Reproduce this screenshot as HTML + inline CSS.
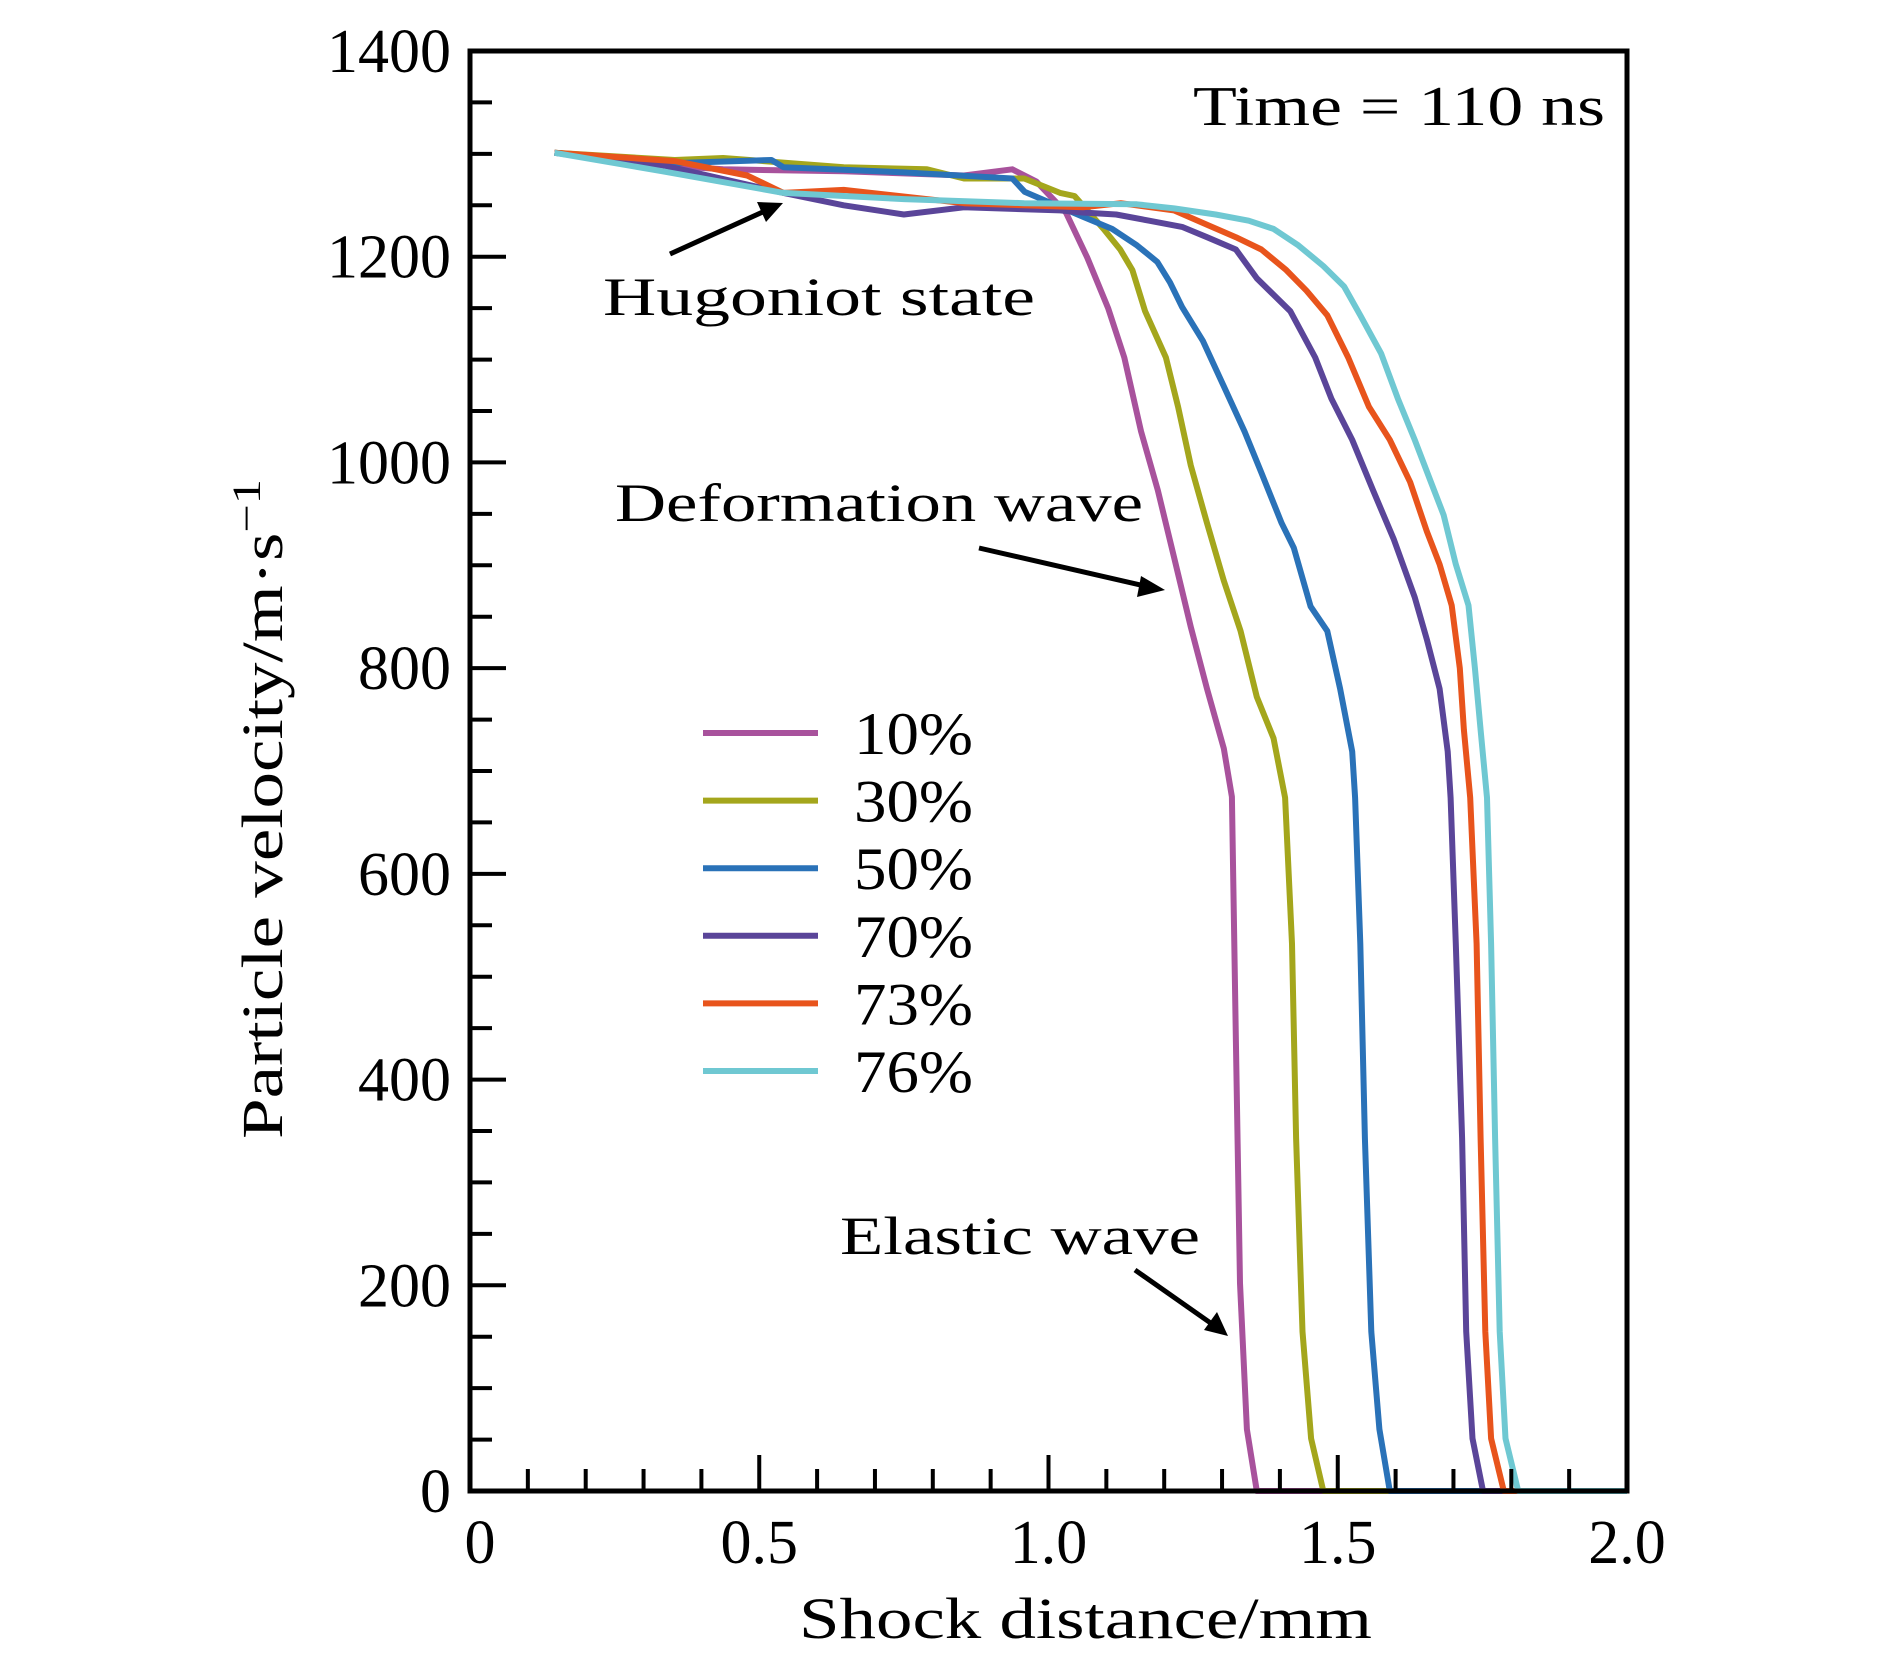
<!DOCTYPE html>
<html><head><meta charset="utf-8"><style>
html,body{margin:0;padding:0;background:#fff;}
svg{display:block;font-family:"Liberation Serif",serif;}
</style></head><body>
<svg id="chart" width="1890" height="1654" viewBox="0 0 1890 1654" xmlns="http://www.w3.org/2000/svg">
<g id="curves"></g>
<g id="axes"></g>
<g id="legend"></g>
<text x="1193" y="125" font-size="56" textLength="412" lengthAdjust="spacingAndGlyphs">Time = 110 ns</text>
<text x="603" y="315" font-size="54" textLength="432" lengthAdjust="spacingAndGlyphs">Hugoniot state</text>
<text x="615" y="521" font-size="54" textLength="528" lengthAdjust="spacingAndGlyphs">Deformation wave</text>
<text x="840" y="1254" font-size="54" textLength="360" lengthAdjust="spacingAndGlyphs">Elastic wave</text>
<g><line x1="670" y1="254" x2="765" y2="211" stroke="#000" stroke-width="5"/><polygon points="783,203 757,202 766,222" fill="#000"/></g>
<g><line x1="979" y1="548" x2="1145" y2="586" stroke="#000" stroke-width="5"/><polygon points="1165,590 1141,576 1137,597" fill="#000"/></g>
<g><line x1="1135" y1="1270" x2="1212" y2="1324" stroke="#000" stroke-width="5"/><polygon points="1228,1336 1217,1312 1204,1330" fill="#000"/></g>
<text x="799" y="1638" font-size="58" textLength="573" lengthAdjust="spacingAndGlyphs">Shock distance/mm</text>
<text transform="translate(282,1139) rotate(-90)" font-size="58" textLength="660" lengthAdjust="spacingAndGlyphs">Particle velocity/m·s<tspan dy="-22" font-size="40">−1</tspan></text>
</svg>
<script>
const seriesNames = ["10%","30%","50%","70%","73%","76%"];
const seriesColors = ["#a8529c","#a4a61c","#2a72b8","#5a4599","#e8541c","#6fc8d2"];
const s10x = [0.146,0.271,0.4375,0.646,0.854,0.9375,0.979,1.030,1.067,1.103,1.131,1.160,1.189,1.217,1.246,1.274,1.303,1.317,1.324,1.331,1.343,1.360,2.0];
const s10y = [1301,1291,1285,1283,1279,1285,1273,1243,1199,1150,1102,1030,973,908,840,780,722,675,437,202,60,0,0];
const s30x = [0.146,0.354,0.4375,0.646,0.79,0.854,0.958,1.02,1.045,1.095,1.124,1.145,1.167,1.203,1.224,1.246,1.274,1.303,1.332,1.360,1.389,1.409,1.421,1.428,1.439,1.454,1.475,2.0];
const s30y = [1301,1294,1296,1287,1285,1276,1276,1262,1259,1227,1207,1187,1147,1102,1054,997,941,885,836,772,732,674,532,343,155,51,0,0];
const s50x = [0.146,0.354,0.521,0.542,0.75,0.9375,0.959,1.009,1.059,1.110,1.153,1.188,1.210,1.231,1.267,1.303,1.339,1.368,1.403,1.424,1.453,1.482,1.504,1.525,1.530,1.539,1.547,1.558,1.572,1.590,2.0];
const s50y = [1301,1291,1294,1287,1282,1276,1263,1251,1239,1227,1211,1195,1175,1151,1118,1074,1030,990,941,917,860,836,780,719,674,532,343,155,60,0,0];
const s70x = [0.146,0.333,0.542,0.646,0.75,0.854,1.02,1.059,1.117,1.174,1.231,1.274,1.324,1.360,1.418,1.461,1.489,1.525,1.561,1.597,1.633,1.654,1.676,1.690,1.695,1.704,1.715,1.722,1.733,1.751,2.0];
const s70y = [1301,1289,1262,1250,1241,1248,1245,1243,1241,1235,1229,1219,1207,1179,1147,1102,1062,1022,973,925,869,828,780,719,674,532,343,155,51,0,0];
const s73x = [0.146,0.354,0.479,0.542,0.646,0.854,1.06,1.125,1.217,1.274,1.324,1.368,1.411,1.446,1.482,1.518,1.554,1.590,1.625,1.654,1.676,1.697,1.711,1.718,1.729,1.740,1.747,1.755,1.765,1.787,2.0];
const s73y = [1301,1293,1279,1262,1265,1252,1248,1252,1245,1231,1219,1207,1187,1167,1143,1102,1054,1022,981,933,901,861,800,740,674,532,343,155,51,0,0];
const s76x = [0.146,0.333,0.542,0.75,0.958,1.153,1.217,1.289,1.346,1.389,1.432,1.475,1.511,1.539,1.575,1.604,1.633,1.661,1.683,1.704,1.726,1.737,1.747,1.758,1.765,1.772,1.780,1.790,1.812,2.0];
const s76y = [1301,1283,1262,1256,1252,1251,1247,1241,1235,1227,1211,1191,1171,1143,1106,1062,1022,981,949,901,861,800,740,674,532,343,155,51,0,0];
const xTicks = [0,0.5,1.0,1.5,2.0];
const xTickLabels = ["0","0.5","1.0","1.5","2.0"];
const yTicks = [0,200,400,600,800,1000,1200,1400];
const yTickLabels = ["0","200","400","600","800","1000","1200","1400"];

const NS="http://www.w3.org/2000/svg";
const X0=470,X1=1627,Y0=1491,Y1=51;
function sx(v){return X0+(v-0)/(2.0-0)*(X1-X0);}
function sy(v){return Y0-(v-0)/(1400-0)*(Y0-Y1);}
function mk(tag,attrs,parent){const e=document.createElementNS(NS,tag);for(const k in attrs)e.setAttribute(k,attrs[k]);parent.appendChild(e);return e;}

const curves=document.getElementById('curves');
const allX=[s10x,s30x,s50x,s70x,s73x,s76x], allY=[s10y,s30y,s50y,s70y,s73y,s76y];
for(let i=0;i<6;i++){
  let d="";
  for(let j=0;j<allX[i].length;j++){d+=(j?"L":"M")+sx(allX[i][j]).toFixed(1)+","+sy(allY[i][j]).toFixed(1);}
  const p=mk('path',{d:d,fill:"none",stroke:seriesColors[i],"stroke-width":6,"stroke-linejoin":"round"},curves);
  
  
}

const axes=document.getElementById('axes');
const frame=mk('rect',{x:X0,y:Y1,width:X1-X0,height:Y0-Y1,fill:"none",stroke:"#000","stroke-width":5},axes);


for(let k=0;k<=20;k++){
  const v=k*0.1, major=(k%5===0);
  const t=mk('line',{x1:sx(v),x2:sx(v),y1:Y0,y2:Y0-(major?36:22),stroke:"#000","stroke-width":4},axes);
  
  
}
for(let k=0;k<=28;k++){
  const v=k*50, major=(k%4===0);
  const t=mk('line',{x1:X0,x2:X0+(major?36:22),y1:sy(v),y2:sy(v),stroke:"#000","stroke-width":4},axes);
  
  
}
xTicks.forEach((v,i)=>{
  const t=mk('text',{x:sx(v)+(i===0?10:0),y:1563,"font-size":62,"text-anchor":"middle"},axes);
  t.textContent=xTickLabels[i];
  
  
});
yTicks.forEach((v,i)=>{
  const t=mk('text',{x:451,y:sy(v)+21,"font-size":62,"text-anchor":"end"},axes);
  t.textContent=yTickLabels[i];
  
  
});

const legend=document.getElementById('legend');
for(let i=0;i<6;i++){
  const y=733+i*67.6;
  const l=mk('line',{x1:703,x2:818,y1:y,y2:y,stroke:seriesColors[i],"stroke-width":6},legend);
  
  
  const t=mk('text',{x:854,y:y+21,"font-size":60,textLength:119,lengthAdjust:"spacingAndGlyphs"},legend);
  t.textContent=seriesNames[i];
  
  
}
</script>
</body></html>
